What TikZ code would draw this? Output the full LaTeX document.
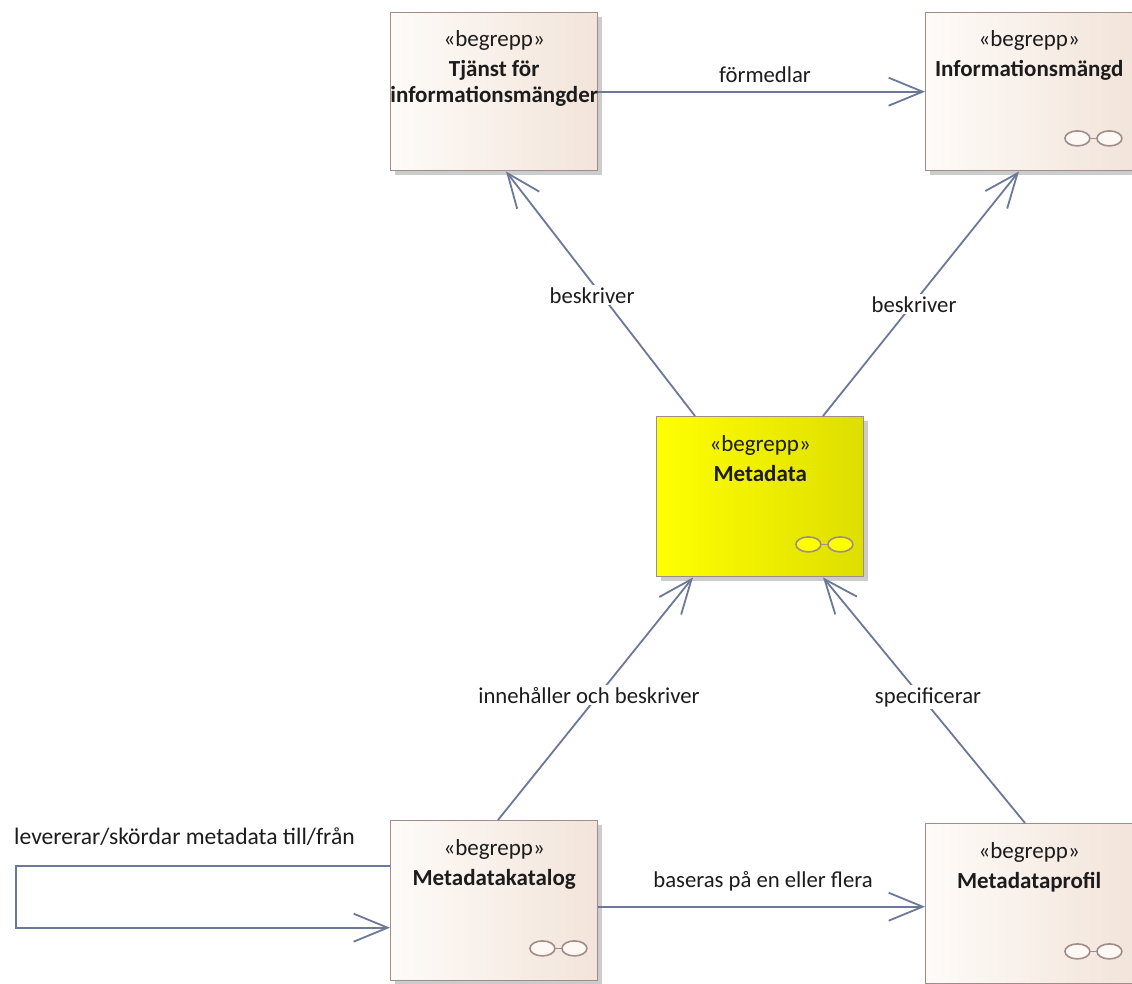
\documentclass[tikz,border=0pt]{standalone}
\usepackage{fontspec}
\setmainfont{Carlito}
\usetikzlibrary{arrows.meta,shadows,calc}
\definecolor{ln}{HTML}{6B7899}
\definecolor{bd}{HTML}{A08C88}
\definecolor{bgL}{HTML}{FEFBF8}
\definecolor{bgR}{HTML}{F2E4DA}
\definecolor{yL}{HTML}{FFFF00}
\definecolor{yR}{HTML}{DEDE00}
\definecolor{txt}{HTML}{1C1C1C}
\definecolor{glc}{HTML}{A08C88}
\definecolor{glf}{HTML}{FDF8F4}
\newcommand\mkglasses[2]{%
  \draw[glstyle] ([xshift=-44pt,yshift=33pt]#1.south east) -- ([xshift=-36pt,yshift=33pt]#1.south east);
  \draw[glstyle, fill=#2] ([xshift=-56pt,yshift=33pt]#1.south east) ellipse [x radius=12.5pt, y radius=7.5pt];
  \draw[glstyle, fill=#2] ([xshift=-24pt,yshift=33pt]#1.south east) ellipse [x radius=12.5pt, y radius=7.5pt];
}
\tikzset{
  box/.style={draw=bd, line width=1.4pt, minimum width=207pt, minimum height=158pt,
    anchor=north west, inner sep=0pt, left color=bgL, right color=bgR,
    drop shadow={shadow xshift=4pt, shadow yshift=-4pt, fill=black!20, opacity=1}},
  ybox/.style={box, left color=yL, right color=yR},
  stereo/.style={anchor=base, inner sep=0pt, text=txt, font=\fontsize{23}{28}\selectfont},
  ttl/.style={anchor=base, inner sep=0pt, text=txt, font=\fontsize{23}{28}\selectfont\bfseries},
  lbl/.style={anchor=base, inner sep=2pt, fill=white, text=txt, font=\fontsize{22.7}{27}\selectfont},
  conn/.style={draw=ln, line width=1.8pt, -{Straight Barb[length=34pt, width=28pt, line width=1.8pt]}},
  glstyle/.style={draw=glc, line width=1.6pt},
}
\begin{document}
\begin{tikzpicture}[x=1pt, y=-1pt]
\useasboundingbox[fill=white] (0,0) rectangle (1132,983);

% boxes
\node[box] (tj) at (390,12) {};
\node[box] (info) at (925,12) {};
\node[ybox, minimum height=160pt] (meta) at (656,416) {};
\node[box, minimum height=160pt] (kat) at (390,820) {};
\node[box, minimum height=160pt] (prof) at (925,823) {};

% box texts
\node[stereo] (tjS) at ([yshift=-34.7pt]tj.north) {«begrepp»};
\node[ttl] (tjA) at ([yshift=-64.7pt]tj.north) {Tjänst för};
\node[ttl] (tjB) at ([yshift=-90pt]tj.north) {informationsmängder};

\node[stereo] (infoS) at ([yshift=-34.7pt]info.north) {«begrepp»};
\node[ttl] (infoA) at ([yshift=-64.7pt]info.north) {Informationsmängd};

\node[stereo] (metaS) at ([yshift=-35.5pt]meta.north) {«begrepp»};
\node[ttl] (metaA) at ([yshift=-65.5pt]meta.north) {Metadata};

\node[stereo] (katS) at ([yshift=-35.5pt]kat.north) {«begrepp»};
\node[ttl] (katA) at ([yshift=-65.5pt]kat.north) {Metadatakatalog};

\node[stereo] (profS) at ([yshift=-35.5pt]prof.north) {«begrepp»};
\node[ttl] (profA) at ([yshift=-65.5pt]prof.north) {Metadataprofil};

% glasses icons
\mkglasses{info}{glf}
\mkglasses{meta}{yL}
\mkglasses{kat}{glf}
\mkglasses{prof}{glf}

% connectors
\draw[conn] (tj.east) -- (info.west);
\draw[conn] ([xshift=39pt]meta.north west) -- ([xshift=116pt]tj.south west);
\draw[conn] ([xshift=167pt]meta.north west) -- ([xshift=94pt]info.south west);
\draw[conn] ([xshift=108pt]kat.north west) -- ([xshift=37pt]meta.south west);
\draw[conn] ([xshift=100pt]prof.north west) -- ([xshift=167pt]meta.south west);
\draw[conn] ([yshift=-6pt]kat.east) -- ([yshift=-3pt]prof.west);
\coordinate (lp) at (16,896);
\draw[conn] ([yshift=35pt]kat.west) -| (lp) |- ([yshift=-27pt]kat.west);

% labels
\node[lbl] (l1) at (765,82) {förmedlar};
\node[lbl] (l2) at (592,303) {beskriver};
\node[lbl] (l3) at (914,312) {beskriver};
\node[lbl] (l4) at (589,703) {innehåller och beskriver};
\node[lbl] (l5) at (928,703) {specificerar};
\node[lbl] (l6) at (763,887) {baseras på en eller flera};
\node[lbl, anchor=base west, font=\fontsize{23.6}{28}\selectfont] (l7) at (12,844) {levererar/skördar metadata till/från};
\end{tikzpicture}
\end{document}
